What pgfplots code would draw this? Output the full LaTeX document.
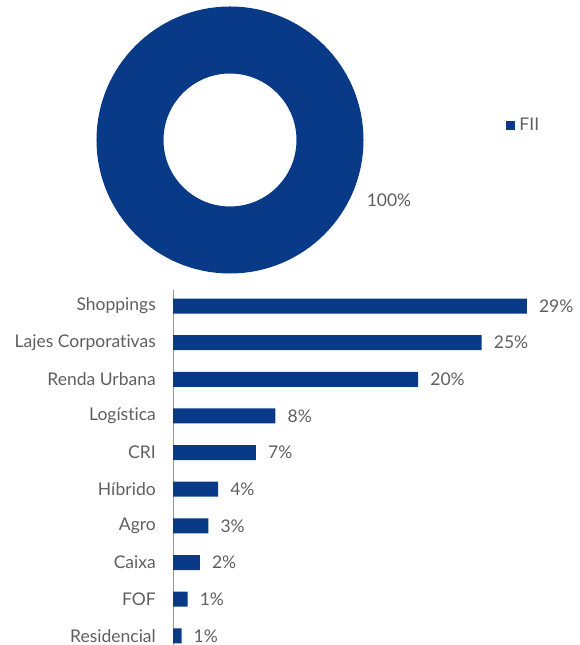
\documentclass[border=0pt]{standalone}
\usepackage{pgfplots}
\pgfplotsset{compat=1.18}
\usepackage{pgfplotstable}
\usepackage{fontspec}
\setmainfont{Lato}[Ligatures={NoCommon}]
\definecolor{barblue}{RGB}{8,58,135}
\definecolor{txt}{RGB}{95,95,95}
\definecolor{axgray}{RGB}{150,150,150}
\pgfplotstableread{
idx val lab
0 29.0 29
1 25.3 25
2 20.1 20
3 8.4 8
4 6.8 7
5 3.7 4
6 2.9 3
7 2.2 2
8 1.2 1
9 0.7 1
}\bars
\newcommand{\lblfont}{\fontsize{17.5}{20}\selectfont}
\begin{document}
\begin{tikzpicture}
\useasboundingbox (0,0) rectangle (579pt,645pt);
% donut
\begin{axis}[at={(230pt,505pt)}, anchor=center, scale only axis,
  width=264pt, height=264pt, xmin=-1, xmax=1, ymin=-1, ymax=1,
  hide axis, clip=false,
  legend style={at={(1.545,0.557)}, anchor=west, draw=none, fill=none,
    inner sep=0pt, font=\lblfont, text=txt,
    /tikz/every odd column/.append style={column sep=3pt}},
  legend image code/.code={\fill[barblue] (0pt,-4pt) rectangle (8pt,4pt);}]
\addplot[only marks, mark=o, mark size=100pt,
  mark options={line width=67pt, draw=barblue},
  point meta=explicit symbolic,
  nodes near coords={\pgfplotspointmeta\%},
  every node near coord/.append style={anchor=center, xshift=159pt, yshift=-60pt,
    font=\lblfont, text=txt}]
  coordinates {(0,0) [100]};
\addlegendentry{FII}
\end{axis}
% bars
\begin{axis}[at={(173pt,0pt)}, anchor=south west, scale only axis,
  width=366pt, height=355.5pt, xmin=0, xmax=30, ymin=-0.45, ymax=9.25,
  y dir=reverse, xbar, bar width=15pt,
  axis y line*=left, axis x line=none,
  y axis line style={axgray, line width=0.8pt},
  ytick={0,...,9},
  yticklabels={Shoppings,Lajes Corporativas,Renda Urbana,Logística,CRI,Híbrido,Agro,Caixa,FOF,Residencial},
  yticklabel style={inner sep=0pt, xshift=-17pt, font=\lblfont, text=txt},
  major tick length=0pt, xtick=\empty, clip=false,
  point meta=explicit symbolic,
  nodes near coords={\pgfplotspointmeta\%},
  nodes near coords style={anchor=west, font=\lblfont, text=txt, inner sep=0pt, xshift=0pt}]
\addplot[draw=none, fill=barblue, nodes near coords style={anchor=west, xshift=12pt}] table[x=val, y=idx, meta=lab] {\bars};
\end{axis}
\end{tikzpicture}
\end{document}
